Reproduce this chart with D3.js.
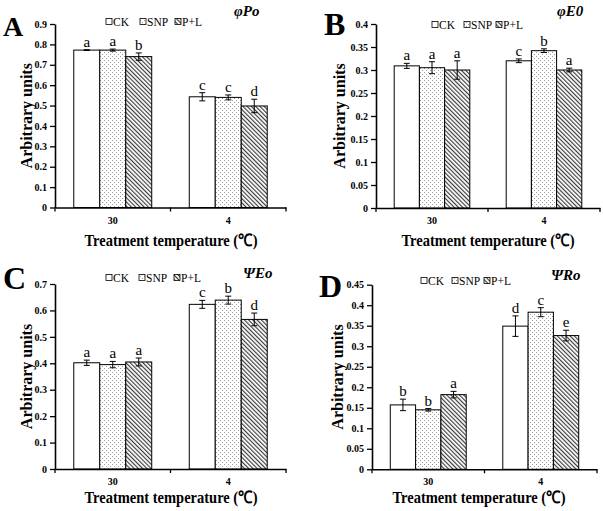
<!DOCTYPE html>
<html>
<head>
<meta charset="utf-8">
<script src="https://cdn.jsdelivr.net/npm/d3@7"></script>
<style>
  html, body { margin: 0; padding: 0; background: #fff; }
  svg { display: block; }
</style>
</head>
<body>
<svg id="chart" width="603" height="511"></svg>
<script>
// ---------------- DATA ----------------
const categories = ["30", "4"];
const seriesNames = ["CK", "SNP", "P+L"];

const phiPoMean = [[0.772, 0.772, 0.740], [0.543, 0.540, 0.498]];
const phiPoErr = [[0.002, 0.005, 0.018], [0.020, 0.012, 0.033]];
const phiPoLetters = [["a", "a", "b"], ["c", "c", "d"]];
const phiPoTicks = [0, 0.1, 0.2, 0.3, 0.4, 0.5, 0.6, 0.7, 0.8, 0.9];

const phiEoMean = [[0.309, 0.305, 0.300], [0.320, 0.342, 0.300]];
const phiEoErr = [[0.0055, 0.013, 0.020], [0.004, 0.004, 0.004]];
const phiEoLetters = [["a", "a", "a"], ["c", "b", "a"]];
const phiEoTicks = [0, 0.05, 0.1, 0.15, 0.2, 0.25, 0.3, 0.35, 0.4];

const psiEoMean = [[0.402, 0.395, 0.405], [0.623, 0.639, 0.566]];
const psiEoErr = [[0.010, 0.012, 0.015], [0.015, 0.015, 0.024]];
const psiEoLetters = [["a", "a", "a"], ["c", "b", "d"]];
const psiEoTicks = [0, 0.1, 0.2, 0.3, 0.4, 0.5, 0.6, 0.7];

const psiRoMean = [[0.157, 0.145, 0.182], [0.349, 0.383, 0.326]];
const psiRoErr = [[0.014, 0.003, 0.008], [0.025, 0.011, 0.013]];
const psiRoLetters = [["b", "b", "a"], ["d", "c", "e"]];
const psiRoTicks = [0, 0.05, 0.1, 0.15, 0.2, 0.25, 0.3, 0.35, 0.4, 0.45];

const xTitle = "Treatment temperature (\u2103)";
const yTitle = "Arbitrary units";

// ---------------- LAYOUT ----------------
const SERIF = "'Liberation Serif', 'Times New Roman', serif";
const svg = d3.select("#chart");

const defs = svg.append("defs");
const dots = defs.append("pattern").attr("id", "dots")
  .attr("patternUnits", "userSpaceOnUse").attr("width", 4).attr("height", 4);
dots.append("rect").attr("width", 4).attr("height", 4).attr("fill", "#fff");
dots.append("rect").attr("x", 0).attr("y", 0).attr("width", 1).attr("height", 1).attr("fill", "#9a9a9a");
dots.append("rect").attr("x", 2).attr("y", 2).attr("width", 1).attr("height", 1).attr("fill", "#9a9a9a");

const hatch = defs.append("pattern").attr("id", "hatch")
  .attr("patternUnits", "userSpaceOnUse").attr("width", 3).attr("height", 3)
  .attr("patternTransform", "rotate(-45)");
hatch.append("rect").attr("width", 3).attr("height", 3).attr("fill", "#fff");
hatch.append("line").attr("x1", 0.5).attr("y1", 0).attr("x2", 0.5).attr("y2", 3)
  .attr("stroke", "#3a3a3a").attr("stroke-width", 1.3);

const fills = ["#fff", "url(#dots)", "url(#hatch)"];

const panels = [
  { letter: "A", letterSize: 28, letterX: 3, letterY: 36, title: "\u03c6Po", titleX: 234, titleY: 16,
    mean: phiPoMean, err: phiPoErr, sig: phiPoLetters, ticks: phiPoTicks,
    x0: 55, x1: 286, yTop: 24, yBot: 207.5, legendX: 106, legendY: 22, legendGap: [0, 34, 69],
    yTitleX: 26, xTitleX: 171, xTitleY: 240 },
  { letter: "B", letterSize: 32, letterX: 324, letterY: 35, title: "\u03c6E0", titleX: 557, titleY: 16,
    mean: phiEoMean, err: phiEoErr, sig: phiEoLetters, ticks: phiEoTicks,
    x0: 376, x1: 600, yTop: 24, yBot: 208, legendX: 432, legendY: 25, legendGap: [0, 32, 64],
    yTitleX: 339, xTitleX: 488, xTitleY: 240 },
  { letter: "C", letterSize: 32, letterX: 3, letterY: 289, title: "\u03a8Eo", titleX: 243, titleY: 278,
    mean: psiEoMean, err: psiEoErr, sig: psiEoLetters, ticks: psiEoTicks,
    x0: 55, x1: 286, yTop: 284, yBot: 469, legendX: 106, legendY: 278, legendGap: [0, 33, 68],
    yTitleX: 26, xTitleX: 171, xTitleY: 497 },
  { letter: "D", letterSize: 32, letterX: 319, letterY: 297, title: "\u03a8Ro", titleX: 551, titleY: 280,
    mean: psiRoMean, err: psiRoErr, sig: psiRoLetters, ticks: psiRoTicks,
    x0: 372, x1: 597, yTop: 284.7, yBot: 469.3, legendX: 421, legendY: 281, legendGap: [0, 31, 63],
    yTitleX: 337, xTitleX: 479, xTitleY: 497 }
];

const fmt = d => d === 0 ? "0" : String(+d.toFixed(2));

panels.forEach(p => {
  const g = svg.append("g");
  const yMax = p.ticks[p.ticks.length - 1];
  const y = d3.scaleLinear().domain([0, yMax]).range([p.yBot, p.yTop]);
  const x = d3.scaleBand().domain(categories).range([p.x0, p.x1]).paddingInner(0).paddingOuter(0);
  const inner = d3.scaleBand().domain(seriesNames)
    .range([0, x.bandwidth() * 0.675]);
  const offset = (x.bandwidth() - x.bandwidth() * 0.675) / 2;

  // bars
  categories.forEach((c, ci) => {
    seriesNames.forEach((s, si) => {
      const v = p.mean[ci][si];
      const e = p.err[ci][si];
      const bx = x(c) + offset + inner(s);
      const bw = inner.bandwidth();
      g.append("rect")
        .attr("x", bx).attr("y", y(v))
        .attr("width", bw).attr("height", y(0) - y(v))
        .attr("fill", fills[si]).attr("stroke", "#000").attr("stroke-width", 1);
      const cx = bx + bw / 2;
      g.append("line").attr("x1", cx).attr("x2", cx).attr("y1", y(v - e)).attr("y2", y(v + e))
        .attr("stroke", "#000").attr("stroke-width", 1);
      [v - e, v + e].forEach(t => {
        g.append("line").attr("x1", cx - 3).attr("x2", cx + 3).attr("y1", y(t)).attr("y2", y(t))
          .attr("stroke", "#000").attr("stroke-width", 1);
      });
      g.append("text").attr("x", cx).attr("y", y(v + e) - 3)
        .attr("text-anchor", "middle")
        .attr("font-family", SERIF).attr("font-size", 15)
        .text(p.sig[ci][si]);
    });
  });

  // y axis
  const yAxis = d3.axisLeft(y).tickValues(p.ticks).tickFormat(fmt).tickSize(5).tickPadding(3).tickSizeOuter(0);
  const ya = g.append("g").attr("transform", `translate(${p.x0},0)`).call(yAxis);
  ya.select(".domain").attr("stroke", "#000").attr("stroke-width", 1.6);
  ya.selectAll(".tick line").attr("stroke", "#000").attr("stroke-width", 1.3);
  ya.selectAll(".tick text").attr("font-family", SERIF).attr("font-weight", "bold")
    .attr("font-size", 10).attr("fill", "#000");

  // x axis
  const xAxis = d3.axisBottom(x).tickSize(0).tickPadding(9).tickSizeOuter(0);
  const xa = g.append("g").attr("transform", `translate(0,${p.yBot})`).call(xAxis);
  xa.select(".domain").attr("stroke", "#000").attr("stroke-width", 1.6);
  xa.selectAll(".tick text").attr("font-family", SERIF).attr("font-weight", "bold")
    .attr("font-size", 10).attr("fill", "#000");
  const bounds = categories.map(c => x(c)).concat([x(categories[categories.length - 1]) + x.bandwidth()]);
  bounds.forEach(b => {
    xa.append("line").attr("x1", b).attr("x2", b).attr("y1", 0).attr("y2", 4)
      .attr("stroke", "#000").attr("stroke-width", 1.3);
  });

  // legend
  seriesNames.forEach((s, si) => {
    const lx = p.legendX + p.legendGap[si];
    g.append("rect").attr("x", lx).attr("y", p.legendY - 3.5).attr("width", 6).attr("height", 6)
      .attr("fill", fills[si]).attr("stroke", "#000").attr("stroke-width", 0.8);
    g.append("text").attr("x", lx + 7).attr("y", p.legendY + 3.5)
      .attr("font-family", SERIF).attr("font-size", 11.5).text(s);
  });

  // titles
  g.append("text").attr("x", p.letterX).attr("y", p.letterY)
    .attr("font-family", SERIF).attr("font-weight", "bold").attr("font-size", p.letterSize).text(p.letter);
  g.append("text").attr("x", p.titleX).attr("y", p.titleY)
    .attr("font-family", SERIF).attr("font-weight", "bold").attr("font-style", "italic")
    .attr("font-size", 15).text(p.title);
  const yMid = (p.yTop + p.yBot) / 2;
  g.append("text").attr("transform", `translate(${p.yTitleX},${yMid}) rotate(-90)`)
    .attr("text-anchor", "middle").attr("dominant-baseline", "central")
    .attr("font-family", SERIF).attr("font-weight", "bold").attr("font-size", 16)
    .text(yTitle);
  g.append("text").attr("x", p.xTitleX).attr("y", p.xTitleY)
    .attr("text-anchor", "middle").attr("dominant-baseline", "central")
    .attr("font-family", SERIF).attr("font-weight", "bold").attr("font-size", 17)
    .attr("textLength", 173).attr("lengthAdjust", "spacingAndGlyphs")
    .text(xTitle);
});
</script>
</body>
</html>
